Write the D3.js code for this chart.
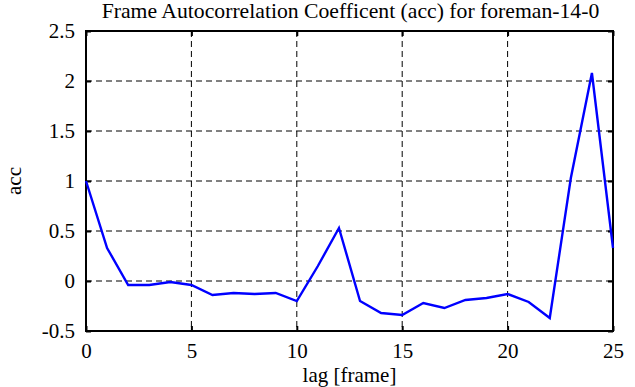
<!DOCTYPE html>
<html>
<head>
<meta charset="utf-8">
<script src="https://cdn.jsdelivr.net/npm/d3@7"></script>
<style>
  body { margin: 0; background: #fff; }
</style>
</head>
<body>
<svg id="chart" width="635" height="387"></svg>
<script>
// values
const lags = [0, 1, 2, 3, 4, 5, 6, 7, 8, 9, 10, 11, 12, 13, 14, 15, 16, 17, 18, 19, 20, 21, 22, 23, 24, 25]
const acc = [1.0, 0.33, -0.04, -0.04, -0.01, -0.04, -0.14, -0.12, -0.13, -0.12, -0.2, 0.15, 0.53,
  -0.2, -0.32, -0.34, -0.22, -0.27, -0.19, -0.17, -0.13, -0.21, -0.37, 1.03, 2.08, 0.33]
const xTicks = [0, 5, 10, 15, 20, 25]
const yTicks = [-0.5, 0, 0.5, 1, 1.5, 2, 2.5]

const title = 'Frame Autocorrelation Coefficent (acc) for foreman-14-0'
const serif = '"Liberation Serif", "DejaVu Serif", serif'
const fs = 21

const m = {left: 86, right: 22, top: 31, bottom: 56}
const W = 635, H = 387
const w = W - m.left - m.right, h = H - m.top - m.bottom

const svg = d3.select('#chart')
  .attr('font-family', serif)
const g = svg.append('g').attr('transform', `translate(${m.left},${m.top})`)

const x = d3.scaleLinear().domain([0, 25]).range([0, w])
const y = d3.scaleLinear().domain([-0.5, 2.5]).range([h, 0])

// grid
g.append('g')
  .selectAll('line')
  .data(xTicks.slice(1, -1))
  .join('line')
  .attr('x1', d => x(d)).attr('x2', d => x(d))
  .attr('y1', 0).attr('y2', h)
  .attr('stroke', '#000').attr('stroke-width', 1)
  .attr('stroke-dasharray', '6,4')
g.append('g')
  .selectAll('line')
  .data(yTicks.slice(1, -1))
  .join('line')
  .attr('y1', d => y(d)).attr('y2', d => y(d))
  .attr('x1', 0).attr('x2', w)
  .attr('stroke', '#000').attr('stroke-width', 1)
  .attr('stroke-dasharray', '6,4')

// axes (ticks pointing inward)
const axes = []
axes.push(g.append('g').attr('transform', `translate(0,${h})`)
  .call(d3.axisBottom(x).tickValues(xTicks).tickSize(-5).tickPadding(12).tickFormat(d3.format('d'))))
axes.push(g.append('g')
  .call(d3.axisLeft(y).tickValues(yTicks).tickSize(-5).tickPadding(11).tickFormat(d => d)))
axes.push(g.append('g').attr('transform', `translate(${w},0)`)
  .call(d3.axisRight(y).tickValues(yTicks).tickSize(-5).tickFormat('')))
axes.push(g.append('g')
  .call(d3.axisTop(x).tickValues(xTicks).tickSize(-5).tickFormat('')))

axes.forEach(a => a.attr('font-family', serif).attr('font-size', fs))
g.selectAll('.domain').attr('stroke', 'none')
g.selectAll('.tick line').attr('stroke', '#000').attr('stroke-width', 2)
g.selectAll('.tick text').attr('fill', '#000')

// frame
g.append('rect')
  .attr('x', 0).attr('y', 0).attr('width', w).attr('height', h)
  .attr('fill', 'none').attr('stroke', '#000').attr('stroke-width', 2)

// series
const line = d3.line().x((d, i) => x(lags[i])).y(d => y(d))
g.append('path')
  .datum(acc)
  .attr('d', line)
  .attr('fill', 'none')
  .attr('stroke', '#0000ff')
  .attr('stroke-width', 2.4)

// labels
svg.append('text')
  .attr('x', m.left + w / 2 + 1).attr('y', 18)
  .attr('text-anchor', 'middle')
  .attr('font-size', 21.7)
  .text(title)

svg.append('text')
  .attr('x', m.left + w / 2).attr('y', 382)
  .attr('text-anchor', 'middle')
  .attr('font-size', fs)
  .text('lag [frame]')

svg.append('text')
  .attr('transform', `translate(21,${m.top + h / 2}) rotate(-90)`)
  .attr('text-anchor', 'middle')
  .attr('font-size', fs)
  .text('acc')
</script>
</body>
</html>
